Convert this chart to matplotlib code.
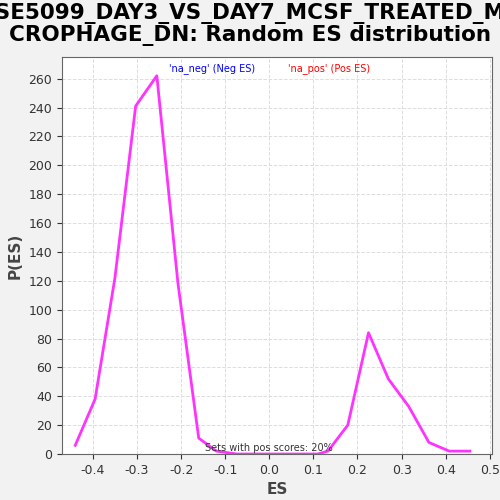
import matplotlib
matplotlib.use("Agg")
import matplotlib.pyplot as plt

es = [-0.44, -0.395, -0.35, -0.303, -0.255, -0.207, -0.16, -0.12, -0.073, -0.027, 0.019, 0.065, 0.11, 0.133, 0.178, 0.225, 0.270, 0.316, 0.362, 0.408, 0.455]
pes = [6, 38, 122, 241, 262, 118, 11, 2, 0, 0, 0, 0, 0, 2, 20, 84, 52, 33, 8, 2, 2]
xticks = [-0.4, -0.3, -0.2, -0.1, 0.0, 0.1, 0.2, 0.3, 0.4, 0.5]
yticks = list(range(0, 261, 20))

fig = plt.figure(figsize=(5, 5), dpi=100, facecolor="#f2f2f2")
ax = fig.add_axes([0.124, 0.092, 0.86, 0.794])
ax.plot(es, pes, color="#ff33ff", lw=2)
ax.set_xlim(-0.47, 0.505)
ax.set_ylim(0, 275)
ax.set_xticks(xticks)
ax.set_xticklabels([f"{t:.1f}" for t in xticks])
ax.set_yticks(yticks)
ax.grid(color="#dddddd", ls="--", lw=0.7)
ax.tick_params(labelsize=9, colors="#333333")
ax.set_xlabel("ES", fontsize=11, fontweight="bold", color="#444444")
ax.set_ylabel("P(ES)", fontsize=11, fontweight="bold", color="#444444")
for s in ax.spines.values():
    s.set_color("#666666")
fig.suptitle("GSE5099_DAY3_VS_DAY7_MCSF_TREATED_MA\nCROPHAGE_DN: Random ES distribution",
             fontsize=14.5, fontweight="bold", y=0.995, linespacing=1.1, family="Liberation Sans Narrow")
fig._suptitle.set_fontsize(15.5)
ax.text(0.35, 0.985, "'na_neg' (Neg ES)", transform=ax.transAxes, color="blue", fontsize=7, ha="center", va="top")
ax.text(0.62, 0.985, "'na_pos' (Pos ES)", transform=ax.transAxes, color="red", fontsize=7, ha="center", va="top")
ax.text(0.0, 1, "Sets with pos scores: 20%", fontsize=7, ha="center", va="bottom", color="#333333")
fig.savefig("out.png", facecolor=fig.get_facecolor())
